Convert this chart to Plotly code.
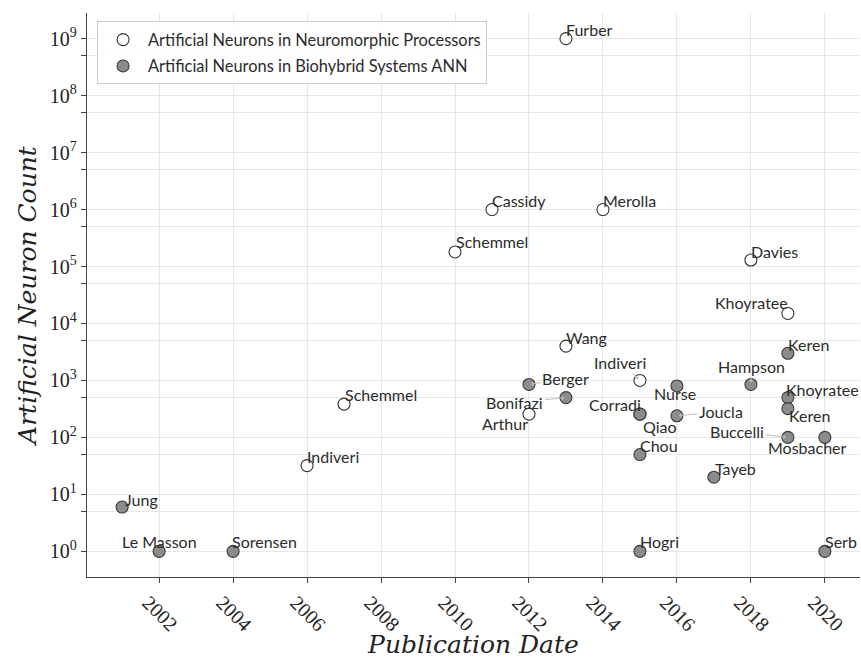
import math
import plotly.graph_objects as go

# ---------------- data ----------------
neuro_names = ["Furber", "Cassidy", "Merolla", "Schemmel", "Davies", "Khoyratee",
               "Wang", "Indiveri", "Schemmel", "Arthur", "Qiao", "Indiveri"]
neuro_years = [2013, 2011, 2014, 2010, 2018, 2019, 2013, 2015, 2007, 2012, 2015, 2006]
neuro_counts = [1e9, 1e6, 1e6, 180000, 130000, 15000, 4000, 1000, 384, 256, 256, 32]

bio_names = ["Keren", "Hampson", "Berger", "Bonifazi", "Nurse", "Khoyratee", "Corradi",
             "Joucla", "Keren", "Buccelli", "Mosbacher", "Chou", "Tayeb", "Jung",
             "Le Masson", "Sorensen", "Hogri", "Serb"]
bio_years = [2019, 2018, 2012, 2013, 2016, 2019, 2015, 2016, 2019, 2019, 2020, 2015,
             2017, 2001, 2002, 2004, 2015, 2020]
bio_counts = [3000, 850, 850, 500, 800, 500, 256, 240, 320, 100, 100, 50, 20, 6, 1, 1, 1, 1]

x_ticks = [2002, 2004, 2006, 2008, 2010, 2012, 2014, 2016, 2018, 2020]
y_major = [1e0, 1e1, 1e2, 1e3, 1e4, 1e5, 1e6, 1e7, 1e8, 1e9]
y_major_text = ["10<sup>%d</sup>" % i for i in range(10)]
y_minor = [5e0, 5e1, 5e2, 5e3, 5e4, 5e5, 5e6, 5e7, 5e8]

legend_names = ["Artificial Neurons in Neuromorphic Processors",
                "Artificial Neurons in Biohybrid Systems ANN"]

# ---------------- label offsets (pixels, text centre relative to point) -------------
neuro_offsets = [(24, -9), (27, -9), (27, -9), (37, -10), (24, -9), (-36, -11),
                 (21, -9), (-20, -18), (37, -10), (-24, 9), (20, 12), (26, -9)]
bio_offsets = [(21, -9), (1, -18), (37, -6), (-51, 5), (-2, 8), (35, -8), (-25, -10),
               (44, -4), (22, 7), (-51, -6), (-17, 10), (19, -9), (22, -9), (19, -8),
               (0, -10), (31, -10), (20, -10), (16, -10)]

SANS = "Lato, 'Open Sans', sans-serif"
SERIF = "'Liberation Serif', 'DejaVu Serif', serif"
TITLE_SERIF = "'DejaVu Serif', 'Liberation Serif', serif"

fig = go.Figure()
fig.add_trace(go.Scatter(
    x=neuro_years, y=neuro_counts, mode="markers", name=legend_names[0],
    legendgroup="a",
    marker=dict(size=12, color="white", line=dict(color="#333333", width=1.1)),
))
fig.add_trace(go.Scatter(
    x=bio_years, y=bio_counts, mode="markers", name=legend_names[1],
    legendgroup="b",
    marker=dict(size=12, color="#8c8c8c", line=dict(color="#3a3a3a", width=1.1)),
))

anns = []
for names, xs, ys, offs in [(neuro_names, neuro_years, neuro_counts, neuro_offsets),
                            (bio_names, bio_years, bio_counts, bio_offsets)]:
    for n, xv, yv, (ax, ay) in zip(names, xs, ys, offs):
        anns.append(dict(
            x=xv, y=math.log10(yv), xref="x", yref="y", text=n,
            showarrow=True, ax=ax, ay=ay, axref="pixel", ayref="pixel",
            arrowhead=1, arrowsize=0.8, arrowwidth=1, arrowcolor="#bdbdbd",
            standoff=2, startstandoff=0,
            font=dict(family=SANS, size=16, color="#2b2b2b"),
        ))

fig.update_layout(
    width=861, height=659,
    margin=dict(l=87, r=1, t=13, b=82),
    paper_bgcolor="white", plot_bgcolor="white",
    showlegend=True,
    legend=dict(
        x=0.013, y=0.985, xanchor="left", yanchor="top",
        bgcolor="rgba(255,255,255,0.85)", bordercolor="#cccccc", borderwidth=1,
        font=dict(family=SANS, size=16.4, color="#2b2b2b"),
        itemwidth=40, tracegroupgap=2,
    ),
    annotations=anns,
    xaxis=dict(
        range=[2000.05, 2020.95], tickmode="array", tickvals=x_ticks,
        ticktext=[str(v) for v in x_ticks], tickangle=45,
        ticks="outside", ticklen=5, tickcolor="#444444", tickwidth=1.2,
        showline=True, linecolor="#444444", linewidth=1.3, mirror=False,
        showgrid=True, gridcolor="#e6e6e6", gridwidth=1, zeroline=False,
        tickfont=dict(family=SERIF, size=20, color="#222222"),
        ticklabelshift=-11, automargin=False,
        title=dict(text="<i>Publication Date</i>",
                   font=dict(family=TITLE_SERIF, size=25, color="#222222"), standoff=1),
    ),
    yaxis=dict(
        type="log", range=[-0.45, 9.45], tickmode="array",
        tickvals=y_major, ticktext=y_major_text,
        ticks="outside", ticklen=5, tickcolor="#444444", tickwidth=1.2,
        showline=True, linecolor="#444444", linewidth=1.3, mirror=False,
        showgrid=True, gridcolor="#e6e6e6", gridwidth=1, zeroline=False,
        minor=dict(tickmode="array", tickvals=y_minor, ticks="outside", ticklen=5,
                   tickcolor="#444444", tickwidth=1.2, showgrid=True,
                   gridcolor="#e6e6e6", gridwidth=1),
        tickfont=dict(family=SERIF, size=20, color="#222222"),
        automargin=False,
        title=dict(text="<i>Artificial Neuron Count</i>",
                   font=dict(family=TITLE_SERIF, size=25, color="#222222"), standoff=6),
    ),
)

fig.write_html("out.html", config={"displayModeBar": False},
               post_script="document.body.style.margin='0';document.body.style.overflow='hidden';")
